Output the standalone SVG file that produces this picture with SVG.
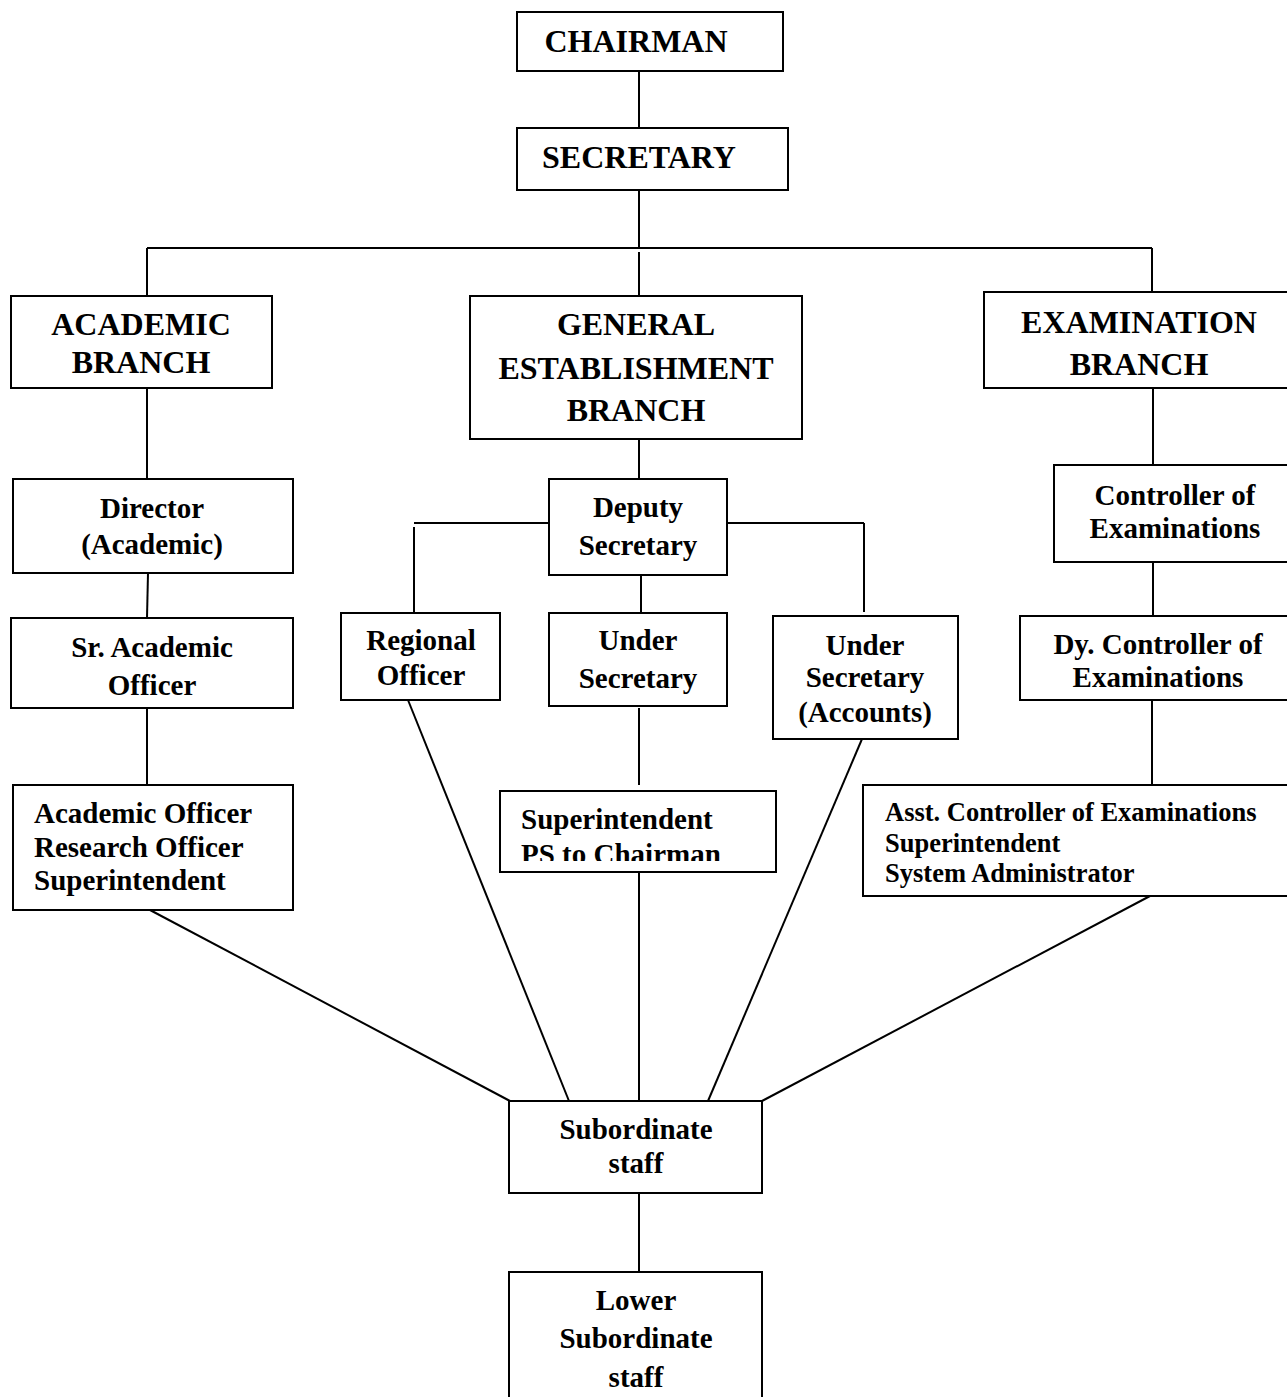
<svg xmlns="http://www.w3.org/2000/svg" width="1287" height="1397" viewBox="0 0 1287 1397">
<style>
rect.box{fill:#fff;stroke:#000;stroke-width:2}
#connectors line{stroke:#000;stroke-width:2}
text{font-family:"Liberation Serif","Times New Roman",serif;font-weight:bold;fill:#000}
.t1{font-size:32px;text-anchor:middle}
.t2{font-size:29px;text-anchor:middle}
.t2l{font-size:29px}
.t3{font-size:26.5px}
</style>
<defs>
<clipPath id="clipSup"><rect x="500" y="791" width="276" height="70"/></clipPath>
</defs>
<rect width="1287" height="1397" fill="#fff"/>
<g id="connectors">
<line x1="639" y1="71" x2="639" y2="128"/>
<line x1="639" y1="190" x2="639" y2="248"/>
<line x1="147" y1="248" x2="1152" y2="248"/>
<line x1="147" y1="248" x2="147" y2="296"/>
<line x1="639" y1="252" x2="639" y2="296"/>
<line x1="1152" y1="248" x2="1152" y2="292"/>
<line x1="147" y1="388" x2="147" y2="479"/>
<line x1="148" y1="573" x2="147" y2="618"/>
<line x1="147" y1="708" x2="147" y2="785"/>
<line x1="639" y1="439" x2="639" y2="479"/>
<line x1="414" y1="523" x2="549" y2="523"/>
<line x1="414" y1="527" x2="414" y2="613"/>
<line x1="727" y1="523" x2="864" y2="523"/>
<line x1="864" y1="523" x2="864" y2="612"/>
<line x1="641" y1="575" x2="641" y2="613"/>
<line x1="639" y1="708" x2="639" y2="785"/>
<line x1="1153" y1="388" x2="1153" y2="465"/>
<line x1="1153" y1="562" x2="1153" y2="616"/>
<line x1="1152" y1="700" x2="1152" y2="785"/>
<line x1="150" y1="910" x2="510" y2="1101"/>
<line x1="408" y1="700" x2="569" y2="1101"/>
<line x1="639" y1="872" x2="639" y2="1101"/>
<line x1="862" y1="739" x2="708" y2="1101"/>
<line x1="1150" y1="896" x2="762" y2="1101"/>
<line x1="639" y1="1193" x2="639" y2="1272"/>
</g>
<g id="chairman"><rect class="box" x="517" y="12" width="266" height="59"/><text class="t1" x="636" y="52">CHAIRMAN</text></g>
<g id="secretary"><rect class="box" x="517" y="128" width="271" height="62"/><text class="t1" x="639" y="168">SECRETARY</text></g>
<g id="academic-branch"><rect class="box" x="11" y="296" width="261" height="92"/><text class="t1" x="141" y="335">ACADEMIC</text><text class="t1" x="141" y="373">BRANCH</text></g>
<g id="general-branch"><rect class="box" x="470" y="296" width="332" height="143"/><text class="t1" x="636" y="335">GENERAL</text><text class="t1" x="636" y="379">ESTABLISHMENT</text><text class="t1" x="636" y="421">BRANCH</text></g>
<g id="examination-branch"><rect class="box" x="984" y="292" width="310" height="96"/><text class="t1" x="1139" y="333">EXAMINATION</text><text class="t1" x="1139" y="375">BRANCH</text></g>
<g id="director"><rect class="box" x="13" y="479" width="280" height="94"/><text class="t2" x="152" y="518">Director</text><text class="t2" x="152" y="554">(Academic)</text></g>
<g id="sr-academic"><rect class="box" x="11" y="618" width="282" height="90"/><text class="t2" x="152" y="657">Sr. Academic</text><text class="t2" x="152" y="695">Officer</text></g>
<g id="academic-officers"><rect class="box" x="13" y="785" width="280" height="125"/><text class="t2l" x="34" y="823">Academic Officer</text><text class="t2l" x="34" y="857">Research Officer</text><text class="t2l" x="34" y="890">Superintendent</text></g>
<g id="deputy-secretary"><rect class="box" x="549" y="479" width="178" height="96"/><text class="t2" x="638" y="517">Deputy</text><text class="t2" x="638" y="555">Secretary</text></g>
<g id="regional-officer"><rect class="box" x="341" y="613" width="159" height="87"/><text class="t2" x="421" y="650">Regional</text><text class="t2" x="421" y="685">Officer</text></g>
<g id="under-secretary"><rect class="box" x="549" y="613" width="178" height="93"/><text class="t2" x="638" y="650">Under</text><text class="t2" x="638" y="688">Secretary</text></g>
<g id="under-secretary-accounts"><rect class="box" x="773" y="616" width="185" height="123"/><text class="t2" x="865" y="655">Under</text><text class="t2" x="865" y="687">Secretary</text><text class="t2" x="865" y="722">(Accounts)</text></g>
<g id="superintendent-ps"><rect class="box" x="500" y="791" width="276" height="81"/><g clip-path="url(#clipSup)"><text class="t2l" x="521" y="829">Superintendent</text><text class="t2l" x="521" y="864">PS to Chairman</text></g></g>
<g id="controller"><rect class="box" x="1054" y="465" width="240" height="97"/><text class="t2" x="1175" y="505">Controller of</text><text class="t2" x="1175" y="538">Examinations</text></g>
<g id="dy-controller"><rect class="box" x="1020" y="616" width="274" height="84"/><text class="t2" x="1158" y="654">Dy. Controller of</text><text class="t2" x="1158" y="687">Examinations</text></g>
<g id="asst-controller"><rect class="box" x="863" y="785" width="431" height="111"/><text class="t3" x="885" y="821">Asst. Controller of Examinations</text><text class="t3" x="885" y="852">Superintendent</text><text class="t3" x="885" y="882">System Administrator</text></g>
<g id="subordinate-staff"><rect class="box" x="509" y="1101" width="253" height="92"/><text class="t2" x="636" y="1139">Subordinate</text><text class="t2" x="636" y="1173">staff</text></g>
<g id="lower-subordinate-staff"><rect class="box" x="509" y="1272" width="253" height="135"/><text class="t2" x="636" y="1310">Lower</text><text class="t2" x="636" y="1348">Subordinate</text><text class="t2" x="636" y="1387">staff</text></g>
</svg>
